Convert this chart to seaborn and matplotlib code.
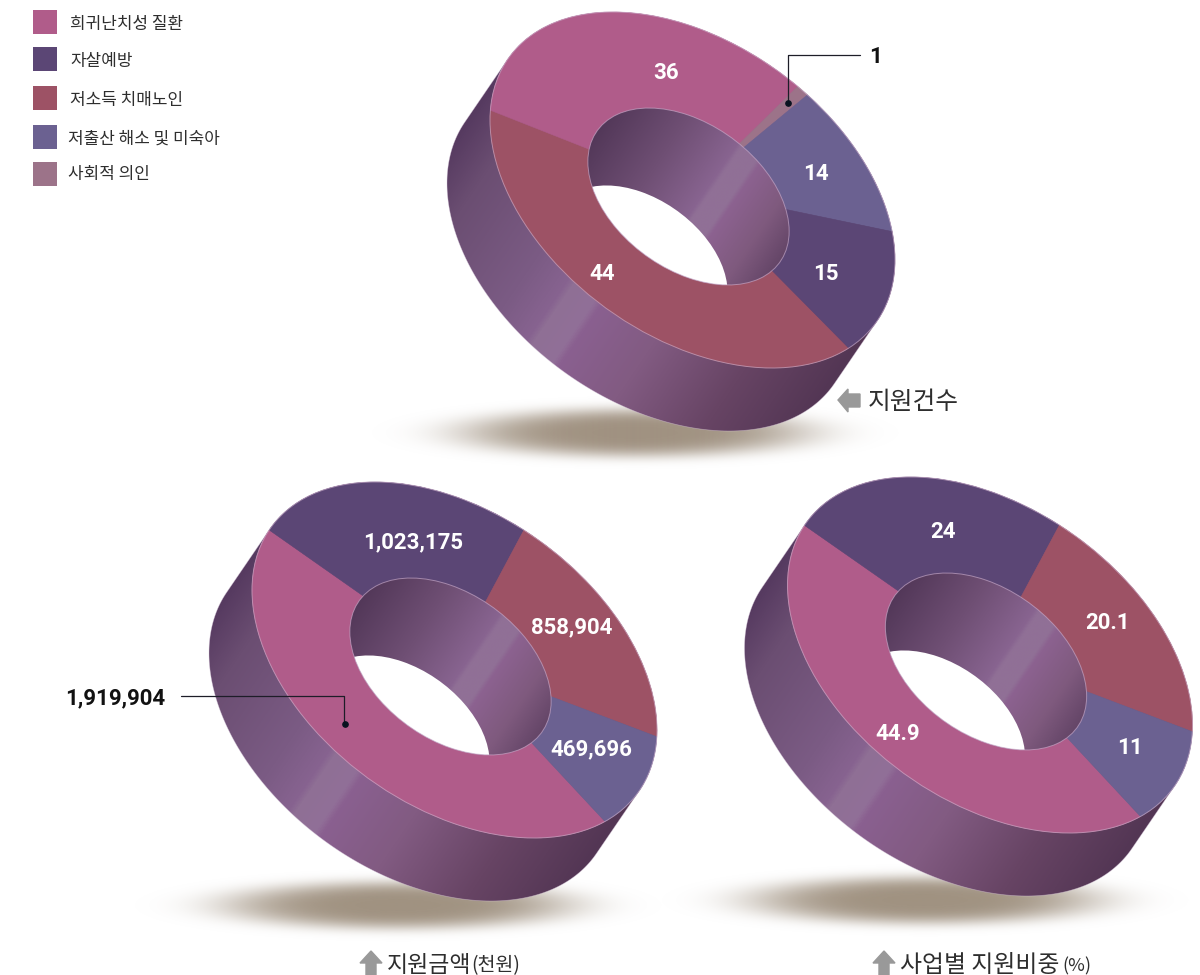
import numpy as np
import matplotlib
matplotlib.use("Agg")
import matplotlib.pyplot as plt
import seaborn as sns
from matplotlib.colors import LinearSegmentedColormap
from matplotlib.patches import Circle, Polygon, Rectangle
from matplotlib.path import Path
from matplotlib.transforms import Affine2D

# Support categories
categories = ["희귀난치성 질환", "자살예방", "저소득 치매노인", "저출산 해소 및 미숙아", "사회적 의인"]
palette_hex = ["#b05c8a", "#5b4675", "#9d5265", "#6b6191", "#9c7389"]

# Values per support category, listed in clockwise drawing order
count_order = [2, 0, 4, 3, 1]
count_values = [44, 36, 1, 14, 15]
amount_order = [0, 1, 2, 3]
amount_values = [1919904, 1023175, 858904, 469696]
share_order = [0, 1, 2, 3]
share_values = [44.9, 24, 20.1, 11]

sns.set_theme(style="white")
plt.rcParams["font.family"] = ["Noto Sans CJK KR", "DejaVu Sans"]
colors = sns.color_palette(palette_hex)

fig = plt.figure(figsize=(12, 9.75), dpi=100, facecolor="white")
ax = fig.add_axes([0, 0, 1, 1])

wall_cmap = LinearSegmentedColormap.from_list("wall", [
    (0.00, "#563a60"), (0.10, "#6b4e72"), (0.30, "#7b5b84"), (0.385, "#876390"),
    (0.40, "#8f7095"), (0.46, "#916f98"), (0.475, "#8a6090"), (0.62, "#825b82"),
    (0.82, "#674464"), (1.00, "#533654")])
hole_cmap = LinearSegmentedColormap.from_list("hole", [
    (0.00, "#533859"), (0.30, "#6f4f74"), (0.55, "#886490"), (0.57, "#907096"),
    (0.66, "#907096"), (0.68, "#8c6290"), (0.85, "#7f5a7e"), (1.00, "#654668")])

OUT_A, OUT_B, OUT_C = 202.5, 178.0, 14151.0
SIDE = np.array([-43.0, 63.0])
AXIS = np.array([63.0, 43.0]) / np.hypot(63.0, 43.0)


def ellipse_map(cx, cy, scale=1.0):
    """Affine map from the unit circle to a tilted ellipse in canvas pixels."""
    a = OUT_A * scale
    shear = OUT_C / OUT_A * scale
    d = np.sqrt(OUT_B ** 2 - (OUT_C / OUT_A) ** 2) * scale
    return Affine2D(np.array([[a, 0, cx], [shear, d, cy], [0, 0, 1.0]]))


def gradient(path_pts, cmap, zorder, clip_path, clip_trans):
    """Paint a directional shade across the bounding box of the given points."""
    x0, y0 = np.floor(path_pts.min(axis=0))
    x1, y1 = np.ceil(path_pts.max(axis=0))
    xx, yy = np.meshgrid(np.arange(x0, x1 + 1), np.arange(y0, y1 + 1))
    proj = xx * AXIS[0] + yy * AXIS[1]
    edge = path_pts @ AXIS
    frac = np.clip((proj - edge.min()) / (edge.max() - edge.min()), 0, 1)
    im = ax.imshow(frac, cmap=cmap, vmin=0, vmax=1, extent=(x0, x1, y1, y0),
                   origin="upper", aspect="auto", zorder=zorder, interpolation="bilinear")
    im.set_clip_path(clip_path, clip_trans)


def shadow(cx, cy, a, b):
    """Soft ground shadow below a ring."""
    xx, yy = np.meshgrid(np.arange(cx - a * 1.6, cx + a * 1.6), np.arange(cy - b * 1.8, cy + b * 1.8))
    r = np.hypot((xx - cx) / a, (yy - cy) / b)
    rgba = np.zeros(xx.shape + (4,))
    rgba[..., :3] = np.array([160, 146, 129]) / 255
    rgba[..., 3] = np.exp(-r ** 4 * 1.0)
    ax.imshow(rgba, extent=(xx.min(), xx.max(), yy.max(), yy.min()), origin="upper",
              aspect="auto", zorder=1)


def ring(values, order, cx, cy, start, shadow_at):
    shadow(*shadow_at)
    outer = ellipse_map(cx, cy)

    # extruded wall: the outer ellipse swept along the depth direction
    o = np.linalg.solve(outer.get_matrix()[:2, :2], SIDE)
    phi = np.arctan2(o[1], o[0])
    near = np.linspace(phi - np.pi / 2, phi + np.pi / 2, 180)
    far = near + np.pi
    pts_front = outer.transform(np.c_[np.cos(near), np.sin(near)]) + SIDE
    pts_back = outer.transform(np.c_[np.cos(far), np.sin(far)])
    hull = np.vstack([pts_front, pts_back])
    gradient(hull, wall_cmap, 2, Path(np.vstack([hull, hull[:1]]), closed=True), ax.transData)
    ax.add_patch(Polygon(hull, closed=True, fill=False, ec="#d9c8dc", lw=0.5, alpha=0.5, zorder=2.5))

    # top face: one pie wedge per value, sheared onto the ellipse
    seq = [colors[i] for i in order]
    wedges, _ = ax.pie(values, colors=seq, startangle=start, counterclock=True, radius=1.0,
                       wedgeprops=dict(lw=0.4))
    for w, c in zip(wedges, seq):
        w.set_edgecolor(c)
        w.set_transform(outer + ax.transData)
        w.set_zorder(3)
    ax.add_patch(Circle((0, 0), 1, fill=False, ec="#d2b4d0", lw=0.7, alpha=0.6, zorder=3.5,
                        transform=outer + ax.transData))

    # hole: inner wall, with the open part showing the page behind it
    inner = ellipse_map(cx - 4, cy + 6.5, 0.497)
    t = np.linspace(0, 2 * np.pi, 361)
    inner_pts = inner.transform(np.c_[np.cos(t), np.sin(t)])
    gradient(inner_pts, hole_cmap, 4, Path.unit_circle(), inner + ax.transData)
    opening = ellipse_map(cx - 52, cy + 72, 0.43)
    white = Circle((0, 0), 1, fc="white", ec="none", zorder=4.5, transform=opening + ax.transData)
    ax.add_patch(white)
    white.set_clip_path(Path.unit_circle(), inner + ax.transData)
    ax.add_patch(Circle((0, 0), 1, fill=False, ec="#c9abcb", lw=0.7, alpha=0.65, zorder=5,
                        transform=inner + ax.transData))


ring(count_values, count_order, 692.5, 190, 39.5, (635, 433, 172, 24))
ring(amount_values, amount_order, 454.5, 660, 42, (398, 905, 172, 24))
ring(share_values, share_order, 990, 655, 42, (925, 900, 172, 24))

# Value labels
num_font = dict(family="Roboto", fontweight="bold", fontsize=16, ha="center", va="center", zorder=7)
for x, y, s in [(666, 73, count_values[1]), (816, 174, count_values[3]),
                (826, 274, count_values[4]), (602, 274, count_values[0]),
                (943, 532, share_values[1]), (1108, 623, share_values[2]),
                (1130, 748, share_values[3]), (898, 734, share_values[0])]:
    ax.text(x, y, str(s), color="white", **num_font)
for x, y, v in [(413, 542, amount_values[1]), (572, 627, amount_values[2]), (591, 749, amount_values[3])]:
    ax.text(x, y, f"{v:,}", color="white", **num_font)
ax.text(115, 698, f"{amount_values[0]:,}", color="#111111", **num_font)
ax.text(876, 57, str(count_values[2]), color="#111111", **num_font)

# Leader lines to the small or detached values
ax.plot([860, 788, 788], [55, 55, 103], color="#1d1d28", lw=0.9, zorder=7)
ax.plot([788], [103], "o", color="#08121f", ms=3.8, zorder=7)
ax.plot([181, 344, 344], [696, 696, 724], color="#1d1d28", lw=0.9, zorder=7)
ax.plot([345], [724], "o", color="#08121f", ms=3.8, zorder=7)

# Legend
swatch_y = [10, 47, 86, 125, 162]
text_y = [24, 61, 100, 139, 174]
text_x = [70, 70, 70, 68, 68]
for y, ty, tx, name, c in zip(swatch_y, text_y, text_x, categories, colors):
    ax.add_patch(Rectangle((33, y), 24, 24, fc=c, ec="none", zorder=6))
    ax.text(tx, ty, name, fontsize=12.2, color="#2e2e2e", va="center", ha="left", zorder=6)

# Captions with grey pointers
cap = dict(color="#2e2e2e", va="center", ha="left", zorder=6)
ax.text(868, 402, "지원건수", fontsize=17.8, **cap)
ax.fill([838, 848, 848, 860, 860, 848, 848], [400, 389, 394, 394, 407, 407, 412], color="#999999", zorder=6)
for ax_x in (360, 873):
    xs = np.array([0, 11, 22, 16, 16, 6, 6]) + ax_x
    ax.fill(xs, [963, 951, 963, 963, 975, 975, 963], color="#999999", zorder=6)
ax.text(387, 965, "지원금액", fontsize=16.5, **cap)
ax.text(471, 966, "(천원)", fontsize=14, **cap)
ax.text(900, 965, "사업별 지원비중", fontsize=17.2, **cap)
ax.text(1062, 966, "(%)", fontsize=13, **cap)

ax.set_xlim(0, 1200)
ax.set_ylim(975, 0)
ax.set_aspect("auto")
ax.set_axis_off()
fig.savefig("out.png", dpi=100, facecolor="white")
